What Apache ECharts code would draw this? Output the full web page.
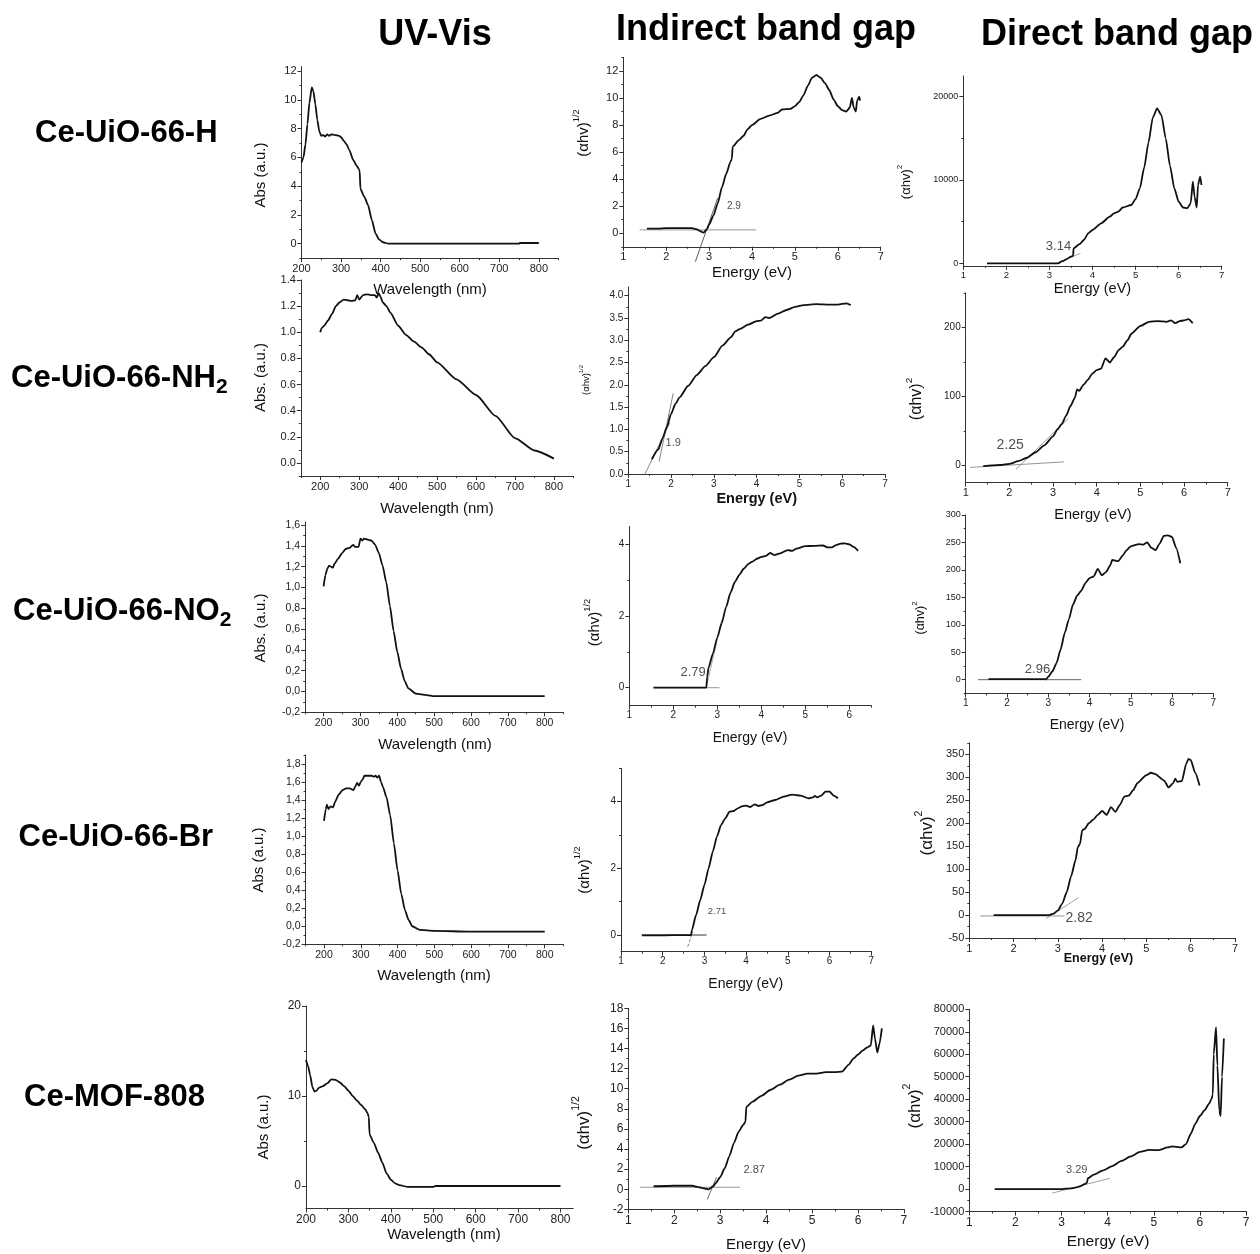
<!DOCTYPE html>
<html><head><meta charset="utf-8">
<script src="https://cdn.jsdelivr.net/npm/echarts@6/dist/echarts.min.js"></script>
<style>html,body{margin:0;padding:0;background:#fff}#c{width:1260px;height:1254px}</style>
</head><body><div id="c"></div>
<script>
const FONT = "'Liberation Sans', Arial, sans-serif";

// ---------- text ----------
const columnTitles = ['UV-Vis', 'Indirect band gap', 'Direct band gap'];
const sampleNames = ['Ce-UiO-66-H', 'Ce-UiO-66-NH{s|2}', 'Ce-UiO-66-NO{s|2}', 'Ce-UiO-66-Br', 'Ce-MOF-808'];

// ---------- tick labels ----------
const wlTicks = [200, 300, 400, 500, 600, 700, 800];
const eTicks = [1, 2, 3, 4, 5, 6, 7];
const eTicks6 = [1, 2, 3, 4, 5, 6];
const yTicksUvH = [0, 2, 4, 6, 8, 10, 12];
const yTicksUvNH2 = [0, 0.2, 0.4, 0.6, 0.8, 1.0, 1.2, 1.4];
const yTicksUvNO2 = [-0.2, 0, 0.2, 0.4, 0.6, 0.8, 1.0, 1.2, 1.4, 1.6];
const yTicksUvBr = [-0.2, 0, 0.2, 0.4, 0.6, 0.8, 1.0, 1.2, 1.4, 1.6, 1.8];
const yTicksUvMOF = [0, 10, 20];
const yTicksIndH = [0, 2, 4, 6, 8, 10, 12];
const yTicksIndNH2 = [0, 0.5, 1.0, 1.5, 2.0, 2.5, 3.0, 3.5, 4.0];
const yTicksIndNO2 = [0, 2, 4];
const yTicksIndBr = [0, 2, 4];
const yTicksIndMOF = [-2, 0, 2, 4, 6, 8, 10, 12, 14, 16, 18];
const yTicksDirH = [0, 10000, 20000];
const yTicksDirNH2 = [0, 100, 200];
const yTicksDirNO2 = [0, 50, 100, 150, 200, 250, 300];
const yTicksDirBr = [-50, 0, 50, 100, 150, 200, 250, 300, 350];
const yTicksDirMOF = [-10000, 0, 10000, 20000, 30000, 40000, 50000, 60000, 70000, 80000];

// ---------- UV-Vis spectra [nm, Abs] ----------
const uvH = [[200,5.65],[205,6.0],[210,6.9],[215,8.3],[220,9.8],[226,10.86],[230,10.6],[235,9.7],[240,8.6],[245,7.8],[250,7.5],[255,7.55],[260,7.45],[265,7.6],[270,7.5],[275,7.6],[285,7.55],[295,7.5],[300,7.4],[307,7.15],[314,6.9],[321,6.5],[331,5.8],[340,5.4],[347,5.1],[349,3.8],[359,3.25],[368,2.7],[378,1.64],[387,0.72],[396,0.3],[406,0.1],[420,0],[500,0],[600,0],[750,0],[752,0.05],[800,0.05]];
const uvNH2 = [[200,1.0],[203,1.03],[210,1.05],[220,1.09],[230,1.14],[240,1.2],[250,1.23],[260,1.25],[270,1.245],[280,1.24],[290,1.245],[295,1.285],[300,1.25],[310,1.285],[320,1.29],[330,1.285],[340,1.285],[345,1.265],[350,1.3],[355,1.27],[360,1.23],[370,1.2],[380,1.15],[400,1.05],[420,0.98],[440,0.93],[460,0.885],[480,0.83],[500,0.77],[550,0.64],[600,0.52],[650,0.36],[700,0.19],[750,0.095],[800,0.033]];
const uvNO2 = [[200,1.01],[205,1.12],[210,1.18],[215,1.21],[220,1.2],[225,1.19],[230,1.23],[240,1.28],[250,1.33],[260,1.37],[270,1.38],[280,1.41],[285,1.39],[295,1.39],[300,1.47],[305,1.45],[310,1.47],[320,1.46],[330,1.45],[340,1.41],[350,1.33],[360,1.21],[370,1.05],[380,0.82],[390,0.58],[400,0.38],[410,0.22],[420,0.1],[430,0.03],[450,-0.02],[480,-0.035],[500,-0.045],[800,-0.045]];
const uvBr = [[200,1.17],[205,1.3],[208,1.35],[212,1.3],[218,1.33],[225,1.32],[230,1.38],[240,1.46],[250,1.51],[260,1.53],[270,1.53],[280,1.51],[285,1.55],[290,1.59],[295,1.56],[300,1.6],[305,1.63],[310,1.67],[320,1.67],[330,1.67],[335,1.66],[340,1.67],[345,1.65],[350,1.67],[355,1.6],[360,1.55],[370,1.43],[380,1.23],[390,0.92],[400,0.62],[410,0.36],[420,0.18],[430,0.07],[440,0.0],[460,-0.04],[500,-0.05],[600,-0.06],[800,-0.06]];
const uvMOF = [[200,14],[205,13.3],[210,12.3],[215,11.0],[220,10.5],[225,10.6],[230,10.9],[240,11.1],[250,11.4],[260,11.85],[270,11.8],[280,11.5],[290,11.1],[300,10.6],[310,10.0],[320,9.5],[330,9.0],[340,8.5],[345,8.1],[348,7.7],[350,5.7],[360,4.8],[370,3.7],[380,2.6],[390,1.4],[400,0.7],[410,0.3],[420,0.1],[440,-0.1],[500,-0.1],[505,0],[800,0]];

// ---------- Indirect band gap [eV, (ahv)^1/2] ----------
const indH = [[1.55,0.35],[1.8,0.35],[2.0,0.38],[2.2,0.38],[2.4,0.38],[2.6,0.38],[2.7,0.3],[2.8,0.15],[2.87,0.05],[2.95,0.3],[3.0,0.65],[3.1,1.3],[3.2,2.2],[3.3,3.4],[3.4,4.4],[3.5,5.3],[3.53,5.5],[3.55,6.4],[3.7,6.9],[3.8,7.2],[3.9,7.7],[4.0,8.0],[4.2,8.45],[4.4,8.7],[4.6,8.9],[4.7,9.15],[4.9,9.2],[5.0,9.4],[5.1,9.7],[5.2,10.2],[5.3,10.9],[5.4,11.5],[5.5,11.7],[5.6,11.5],[5.7,11.1],[5.8,10.6],[5.9,9.9],[6.0,9.4],[6.1,9.1],[6.2,9.0],[6.28,9.3],[6.33,10.0],[6.37,9.3],[6.42,9.0],[6.45,9.8],[6.5,10.1],[6.52,9.8]];
const indNH2 = [[1.55,0.33],[1.7,0.55],[1.8,0.8],[1.9,1.05],[2.0,1.35],[2.1,1.57],[2.2,1.72],[2.4,1.98],[2.6,2.22],[2.8,2.42],[3.0,2.62],[3.2,2.88],[3.4,3.07],[3.5,3.2],[3.6,3.25],[3.8,3.35],[4.0,3.43],[4.1,3.44],[4.2,3.52],[4.3,3.5],[4.5,3.6],[4.7,3.68],[4.9,3.75],[5.1,3.79],[5.4,3.81],[5.7,3.8],[5.9,3.8],[6.1,3.83],[6.2,3.79]];
const indNO2 = [[1.55,0],[2.0,0],[2.5,0],[2.75,0],[2.77,0.3],[2.8,0.55],[2.9,0.95],[3.0,1.4],[3.1,1.8],[3.2,2.25],[3.3,2.65],[3.4,2.95],[3.5,3.15],[3.6,3.32],[3.7,3.45],[3.8,3.52],[3.9,3.6],[4.0,3.65],[4.1,3.68],[4.2,3.76],[4.3,3.7],[4.4,3.74],[4.6,3.84],[4.7,3.82],[4.8,3.88],[5.0,3.95],[5.2,3.96],[5.4,3.97],[5.5,3.92],[5.6,3.92],[5.7,3.98],[5.8,4.02],[5.9,4.03],[6.0,4.0],[6.1,3.93],[6.2,3.82]];
const indBr = [[1.5,-0.01],[2.0,-0.01],[2.5,0],[2.68,0],[2.7,0.15],[2.8,0.6],[2.9,1.05],[3.0,1.5],[3.1,2.0],[3.2,2.5],[3.3,2.95],[3.4,3.3],[3.5,3.5],[3.6,3.7],[3.7,3.72],[3.8,3.8],[3.9,3.86],[4.0,3.88],[4.1,3.84],[4.2,3.92],[4.3,3.87],[4.4,3.9],[4.5,3.98],[4.7,4.05],[4.9,4.15],[5.1,4.21],[5.3,4.18],[5.5,4.1],[5.6,4.13],[5.65,4.17],[5.7,4.13],[5.8,4.18],[5.9,4.3],[6.0,4.3],[6.1,4.18],[6.2,4.1]];
const indMOF = [[1.55,0.3],[2.0,0.35],[2.4,0.35],[2.5,0.25],[2.6,0.15],[2.7,0.05],[2.75,0.0],[2.85,0.3],[2.9,0.6],[3.0,1.2],[3.1,2.1],[3.2,3.3],[3.3,4.6],[3.4,5.7],[3.5,6.4],[3.55,6.7],[3.57,8.2],[3.7,8.7],[3.9,9.3],[4.1,9.9],[4.3,10.4],[4.5,10.9],[4.7,11.3],[4.9,11.5],[5.1,11.5],[5.3,11.65],[5.5,11.65],[5.65,11.7],[5.8,12.4],[5.9,13.0],[6.0,13.4],[6.1,13.8],[6.2,14.1],[6.28,14.3],[6.33,16.3],[6.37,15.0],[6.42,13.6],[6.47,14.5],[6.52,16.0]];

// ---------- Direct band gap [eV, (ahv)^2] ----------
const dirH = [[1.55,0],[2.0,0],[2.5,0],[3.0,0],[3.2,0],[3.3,250],[3.4,500],[3.5,800],[3.55,900],[3.56,1800],[3.7,2300],[3.8,2800],[3.9,3600],[4.0,4000],[4.2,4800],[4.4,5600],[4.5,6000],[4.6,6200],[4.7,6700],[4.9,7000],[5.0,7700],[5.1,9000],[5.2,11500],[5.3,14500],[5.4,17500],[5.5,18600],[5.6,17800],[5.7,15000],[5.8,11700],[5.9,9000],[6.0,7400],[6.1,6700],[6.2,6600],[6.28,7200],[6.33,9800],[6.37,8000],[6.42,6700],[6.45,9400],[6.5,10400],[6.53,9400]];
const dirNH2 = [[1.4,-1],[1.6,0],[1.8,0.5],[2.0,2],[2.2,6],[2.4,11],[2.6,19],[2.8,29],[3.0,42],[3.1,52],[3.2,60],[3.3,72],[3.4,86],[3.5,98],[3.55,110],[3.6,108],[3.7,117],[3.8,124],[3.9,133],[4.0,138],[4.1,140],[4.2,155],[4.3,149],[4.4,157],[4.5,167],[4.6,172],[4.7,181],[4.8,191],[5.0,202],[5.2,208],[5.4,209],[5.6,208],[5.7,210],[5.8,206],[5.9,209],[6.0,210],[6.1,212],[6.2,206]];
const dirNO2 = [[1.55,1],[2.0,1],[2.5,1],[2.95,1],[3.0,5],[3.1,15],[3.2,30],[3.3,55],[3.4,85],[3.5,110],[3.6,137],[3.7,153],[3.8,162],[3.9,176],[4.0,185],[4.1,188],[4.2,202],[4.3,190],[4.4,196],[4.5,208],[4.55,218],[4.7,216],[4.8,226],[4.9,236],[5.0,243],[5.2,247],[5.3,246],[5.4,250],[5.5,240],[5.6,236],[5.7,248],[5.8,262],[5.9,263],[6.0,260],[6.1,240],[6.2,212]];
const dirBr = [[1.55,0],[2.0,0],[2.5,0],[2.8,0],[2.9,3],[3.0,10],[3.1,25],[3.2,50],[3.3,85],[3.4,120],[3.45,148],[3.5,155],[3.55,185],[3.6,187],[3.7,200],[3.8,208],[3.9,218],[4.0,227],[4.1,218],[4.2,235],[4.3,225],[4.4,240],[4.5,258],[4.6,260],[4.7,272],[4.8,288],[5.0,305],[5.1,310],[5.2,307],[5.4,293],[5.5,278],[5.6,287],[5.65,297],[5.7,290],[5.8,292],[5.9,330],[5.95,340],[6.0,338],[6.1,310],[6.2,282]];
const dirMOF = [[1.55,0],[2.0,0],[2.5,0],[3.0,0],[3.1,150],[3.2,300],[3.3,600],[3.4,1200],[3.5,2200],[3.55,2700],[3.57,4800],[3.7,6400],[3.9,8300],[4.1,10200],[4.3,12500],[4.5,14500],[4.7,16500],[4.9,17400],[5.1,17300],[5.3,18500],[5.4,19000],[5.6,18500],[5.7,20000],[5.8,24500],[5.9,29000],[6.0,32500],[6.1,35000],[6.2,38000],[6.25,40000],[6.28,42000],[6.3,60000],[6.35,72000],[6.38,55000],[6.42,35000],[6.45,32500],[6.48,50000],[6.52,67000]];

// ---------- fitted lines (baselines and tangents) ----------
const baseIndH = [[1.38,0.25],[4.1,0.25]];
const tanIndH = [[2.68,-2.1],[3.2,2.6]];
const tanDirH = [[3.12,-100],[3.72,1200]];
const tanIndNH2a = [[1.39,0],[1.97,1.15]];
const tanIndNH2b = [[1.72,0.28],[2.05,1.81]];
const baseDirNH2 = [[1.1,-3],[3.25,5]];
const tanDirNH2 = [[2.15,-6],[3.35,68]];
const baseIndNO2 = [[1.55,0],[3.05,0]];
const tanIndNO2 = [[2.75,0],[3.1,1.9]];
const baseDirNO2 = [[1.3,0],[3.8,0]];
const tanDirNO2 = [[2.93,-2],[3.2,28]];
const baseIndBr = [[1.5,0],[3.05,0]];
const tanIndBr = [[2.6,-0.35],[2.72,0.1]];
const baseDirBr = [[1.25,-2],[3.15,-2]];
const tanDirBr = [[2.73,-8],[3.47,38]];
const baseIndMOF = [[1.25,0.2],[3.43,0.2]];
const tanIndMOF = [[2.72,-1.0],[2.92,1.2]];
const tanDirMOF = [[2.8,-1800],[4.05,4800]];

// ---------- band-gap annotations ----------
const gapTexts = ['2.9','3.14','1.9','2.25','2.79','2.96','2.71','2.82','2.87','3.29'];
const gapAt = [[3.58,2.0],[3.21,2000],[2.05,0.69],[2.02,29],[2.45,0.42],[2.74,19.4],[3.3,0.7],[3.48,-7.3],[3.74,1.92],[3.33,8457]];

const SUP_HALF = '(αhv){s|1/2}';
const SUP_TWO = '(αhv){s|2}';
const ENERGY = 'Energy (eV)';
const WAVE = 'Wavelength (nm)';

// ---------- layout ----------
const panels = [
 // row 1
 {d:uvH, g:[301.5,66.7,257.1,191.4], x:[200,850,wlTicks,50,11], y:[-1,12.3,yTicksUvH,1,11,0],
  yn:['Abs (a.u.)',260.8,175,15], xn:[WAVE,430,290,15,false]},
 {d:indH, g:[623.3,57.4,257.4,189.4], x:[1,7,eTicks,0.5,11], y:[-1,13,yTicksIndH,1,11,0],
  yn:[SUP_HALF,584,133,15], xn:[ENERGY,752,272.5,15,false],
  t:[[baseIndH,'#999',1,'solid'],[tanIndH,'#333',0.8,'solid']], gap:[0,10]},
 {d:dirH, g:[963.3,75.9,258.4,189.9], x:[1,7,eTicks,0.5,9.5], y:[-300,22500,yTicksDirH,5000,9,0],
  yn:[SUP_TWO,906,182,13], xn:[ENERGY,1092.5,289,14.5,false],
  t:[[tanDirH,'#888',0.8,'solid']], gap:[1,13]},
 // row 2
 {d:uvNH2, g:[300.8,280,272.6,196], x:[150,850,wlTicks,50,11], y:[-0.1,1.4,yTicksUvNH2,0.1,11,'d1'],
  yn:['Abs. (a.u.)',260.8,377.5,15], xn:[WAVE,437,509,15,false]},
 {d:indNH2, g:[628.3,286.8,256.7,187.2], x:[1,7,eTicks,0.5,10], y:[0,4.2,yTicksIndNH2,0.25,10,'d1'],
  yn:[SUP_HALF,586,380,9.5], xn:[ENERGY,756.7,499,14.5,true],
  t:[[tanIndNH2a,'#666',0.8,'solid'],[tanIndNH2b,'#666',0.8,'solid']], gap:[2,11]},
 {d:dirNH2, g:[965.7,292.8,262,189.8], x:[1,7,eTicks,0.5,11], y:[-25,250,yTicksDirNH2,50,10,0],
  yn:[SUP_TWO,917,399,16], xn:[ENERGY,1093,515,14.5,false],
  t:[[baseDirNH2,'#888',0.9,'solid'],[tanDirNH2,'#888',0.9,'solid']], gap:[3,14]},
 // row 3
 {d:uvNO2, g:[305.2,521.9,257.9,190.4], x:[150,850,wlTicks,50,10.5], y:[-0.2,1.63,yTicksUvNO2,0.1,10.5,'c1'],
  yn:['Abs. (a.u.)',260.8,628,15], xn:[WAVE,435,745,15,false]},
 {d:indNO2, g:[629.3,526.5,242,179.1], x:[1,6.5,eTicks6,0.5,10], y:[-0.5,4.5,yTicksIndNO2,1,10,0],
  yn:[SUP_HALF,595,622.5,15], xn:[ENERGY,750,738,14,false],
  t:[[baseIndNO2,'#999',1,'solid'],[tanIndNO2,'#999',0.8,'solid']], gap:[4,13]},
 {d:dirNO2, g:[965.7,515,247.6,178.4], x:[1,7,eTicks,0.5,10], y:[-25,300,yTicksDirNO2,25,9,0],
  yn:[SUP_TWO,921,618,12.5], xn:[ENERGY,1087,725,14,false],
  t:[[baseDirNO2,'#555',0.9,'solid'],[tanDirNO2,'#999',0.8,'solid']], gap:[5,13]},
 // row 4
 {d:uvBr, g:[305.6,755,257.5,189.3], x:[150,850,wlTicks,50,10.5], y:[-0.2,1.9,yTicksUvBr,0.1,10.5,'c1'],
  yn:['Abs (a.u.)',259,860,15], xn:[WAVE,434,976,15,false]},
 {d:indBr, g:[621,768.3,250.3,183.4], x:[1,7,eTicks,0.5,10], y:[-0.5,5,yTicksIndBr,1,10,0],
  yn:[SUP_HALF,585,870,15], xn:[ENERGY,745.7,984,14,false],
  t:[[baseIndBr,'#333',1,'solid'],[tanIndBr,'#666',0.8,'dashed']], gap:[6,9.5]},
 {d:dirBr, g:[969.3,742.9,265.7,195.1], x:[1,7,eTicks,0.5,11], y:[-50,375,yTicksDirBr,25,11,0],
  yn:[SUP_TWO,927,833,17], xn:[ENERGY,1098.5,959,12.5,true],
  t:[[baseDirBr,'#888',0.9,'solid'],[tanDirBr,'#888',0.8,'solid']], gap:[7,14]},
 // row 5
 {d:uvMOF, g:[306,1006,267.2,202.5], x:[200,830,wlTicks,50,12], y:[-2.5,20,yTicksUvMOF,5,12,0],
  yn:['Abs (a.u.)',263.4,1127,15], xn:[WAVE,444,1235,15,false]},
 {d:indMOF, g:[628.3,1008.3,275.6,201.1], x:[1,7,eTicks,0.5,12], y:[-2,18,yTicksIndMOF,1,12,0],
  yn:[SUP_HALF,584,1123,17], xn:[ENERGY,766,1245,15,false],
  t:[[baseIndMOF,'#999',1,'solid'],[tanIndMOF,'#444',0.8,'solid']], gap:[8,11]},
 {d:dirMOF, g:[969.3,1009.3,276.7,202.2], x:[1,7,eTicks,0.5,12], y:[-10000,80000,yTicksDirMOF,5000,11,0],
  yn:[SUP_TWO,915,1106,17], xn:[ENERGY,1108,1241.7,15.5,false],
  t:[[tanDirMOF,'#888',0.8,'solid']], gap:[9,11]}
];

function fmtVal(v, f) {
  if (f === 'd1') return v.toFixed(1);
  if (f === 'c1') return v.toFixed(1).replace('.', ',');
  return String(Math.round(v * 1000) / 1000);
}
function minorList(min, max, step) {
  const out = [];
  for (let k = Math.ceil(min / step - 1e-9); k * step <= max + 1e-9; k++) out.push(Math.round(k * step * 1e6) / 1e6);
  return out;
}
function mainAxis(dim, gi, min, max, ticks, fs, fmt) {
  return {
    type: 'value', gridIndex: gi, min: min, max: max, position: dim === 'x' ? 'bottom' : 'left',
    axisLine: { show: true, onZero: false, lineStyle: { color: '#333', width: 1 } },
    axisTick: { show: true, customValues: ticks, length: 4, lineStyle: { color: '#333', width: 1 } },
    axisLabel: { show: true, customValues: ticks, fontSize: fs, fontFamily: FONT, color: '#222',
      margin: 5, formatter: v => fmtVal(v, fmt) },
    splitLine: { show: false }
  };
}
function minorAxis(dim, gi, min, max, step) {
  return {
    type: 'value', gridIndex: gi, min: min, max: max, position: dim === 'x' ? 'bottom' : 'left',
    axisLine: { show: false, onZero: false },
    axisTick: { show: true, customValues: minorList(min, max, step), length: 2, lineStyle: { color: '#333', width: 1 } },
    axisLabel: { show: false }, splitLine: { show: false }
  };
}

const option = { animation: false, backgroundColor: '#fff', grid: [], xAxis: [], yAxis: [], series: [], graphic: { elements: [] } };

panels.forEach((p, i) => {
  option.grid.push({ left: p.g[0], top: p.g[1], width: p.g[2], height: p.g[3], containLabel: false, outerBoundsMode: 'none', show: false });
  const [xmin, xmax, xt, xm, xfs] = p.x;
  const [ymin, ymax, yt, ym, yfs, yf] = p.y;
  option.xAxis.push(mainAxis('x', i, xmin, xmax, xt, xfs, 0), minorAxis('x', i, xmin, xmax, xm));
  option.yAxis.push(mainAxis('y', i, ymin, ymax, yt, yfs, yf), minorAxis('y', i, ymin, ymax, ym));
  option.series.push({ type: 'line', xAxisIndex: 2 * i, yAxisIndex: 2 * i, data: p.d, symbol: 'none', showSymbol: false,
    smooth: 0.2, smoothMonotone: 'x', lineStyle: { color: '#111', width: 1.8 }, silent: true, z: 3 });
  (p.t || []).forEach(t => {
    option.series.push({ type: 'line', xAxisIndex: 2 * i, yAxisIndex: 2 * i, data: t[0], symbol: 'none', showSymbol: false,
      lineStyle: { color: t[1], width: t[2], type: t[3] }, clip: false, silent: true, z: 2 });
  });
  if (p.gap) {
    const gi = p.gap[0];
    option.series.push({ type: 'scatter', xAxisIndex: 2 * i, yAxisIndex: 2 * i, data: [gapAt[gi]], symbolSize: 0.01,
      itemStyle: { color: 'transparent' }, silent: true, z: 5,
      label: { show: true, position: 'inside', formatter: gapTexts[gi], fontSize: p.gap[1], fontFamily: FONT, color: '#222' } });
  }
  const yn = p.yn;
  option.graphic.elements.push({ type: 'text', x: yn[1], y: yn[2], rotation: Math.PI / 2, silent: true,
    style: { text: yn[0], fontSize: yn[3], fontFamily: FONT, lineHeight: yn[3] * 1.6, fill: '#111', align: 'center', verticalAlign: 'middle',
      rich: { s: { fontSize: yn[3] * 0.62, lineHeight: yn[3] * 0.62, fontFamily: FONT, verticalAlign: 'top' } } } });
  const xn = p.xn;
  option.graphic.elements.push({ type: 'text', x: xn[1], y: xn[2], silent: true,
    style: { text: xn[0], fontSize: xn[3], fontWeight: xn[4] ? 'bold' : 'normal', fontFamily: FONT, fill: '#111', align: 'center', verticalAlign: 'middle' } });
});

// column titles
[[435, 35], [766, 30], [1117, 35]].forEach((pos, k) => {
  option.graphic.elements.push({ type: 'text', x: pos[0], y: pos[1], silent: true,
    style: { text: columnTitles[k], fontSize: 36, fontWeight: 'bold', fontFamily: FONT, fill: '#000', align: 'center', verticalAlign: 'middle' } });
});
// sample names
[[35, 133], [11, 378], [13, 611], [18.5, 837.5], [24, 1097.5]].forEach((pos, k) => {
  option.graphic.elements.push({ type: 'text', x: pos[0], y: pos[1], silent: true,
    style: { text: sampleNames[k], fontSize: 31, fontWeight: 'bold', fontFamily: FONT, lineHeight: 40, fill: '#000', align: 'left', verticalAlign: 'middle',
      rich: { s: { fontSize: 21, fontWeight: 'bold', fontFamily: FONT, lineHeight: 21, verticalAlign: 'bottom' } } } });
});

const chart = echarts.init(document.getElementById('c'), null, { renderer: 'canvas' });
chart.setOption(option);
</script></body></html>
